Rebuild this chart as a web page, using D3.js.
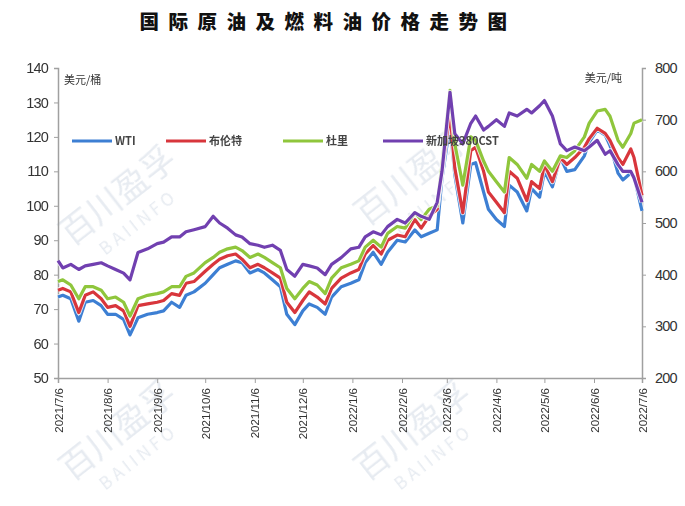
<!DOCTYPE html>
<html lang="zh">
<head>
<meta charset="UTF-8">
<title>国际原油及燃料油价格走势图</title>
<script src="https://d3js.org/d3.v7.min.js"></script>
<style>
  body { margin: 0; background: #fff; }
  svg { display: block; }
</style>
</head>
<body>
<div id="chart"></div>
<script>
// dates (roughly every few trading days)
const dates = [
  "2021-07-06","2021-07-09","2021-07-14","2021-07-19","2021-07-23","2021-07-28",
  "2021-08-02","2021-08-06","2021-08-11","2021-08-16","2021-08-20","2021-08-25","2021-08-31",
  "2021-09-06","2021-09-10","2021-09-15","2021-09-20","2021-09-24","2021-09-29",
  "2021-10-06","2021-10-11","2021-10-15","2021-10-20","2021-10-25","2021-10-29",
  "2021-11-03","2021-11-08","2021-11-12","2021-11-17","2021-11-22","2021-11-26",
  "2021-12-01","2021-12-06","2021-12-10","2021-12-15","2021-12-20","2021-12-24","2021-12-30",
  "2022-01-05","2022-01-10","2022-01-14","2022-01-19","2022-01-24","2022-01-28",
  "2022-02-03","2022-02-08","2022-02-14","2022-02-18","2022-02-23","2022-02-28",
  "2022-03-03","2022-03-08","2022-03-11","2022-03-16","2022-03-21","2022-03-24","2022-03-29",
  "2022-04-01","2022-04-06","2022-04-11","2022-04-14","2022-04-19","2022-04-25","2022-04-28",
  "2022-05-03","2022-05-06","2022-05-11","2022-05-16","2022-05-20","2022-05-25","2022-05-31",
  "2022-06-03","2022-06-08","2022-06-13","2022-06-16","2022-06-21","2022-06-24","2022-06-29",
  "2022-07-01","2022-07-06"
];

// 美元/桶 (left axis)
const wti = [
  73.5,74,73,66.5,72,72.5,
  71,68.5,68.5,67,62.5,67.5,68.5,
  69,69.5,72,70.5,74,75,
  77.5,80,82,83,84,83.5,
  80.5,81.5,80.5,78.5,76.5,68.5,
  65.5,69.5,71.5,70.5,68.5,73.5,76.5,
  77.5,78.5,83.5,86.5,83,86.5,
  90,89.5,93,91,92,93,
  108,123.5,109,95,112,112.5,104,
  99,96,94,106,104,98.5,105,
  102.5,110,105.5,114,110,110.5,114.5,
  118.5,122,120.5,117.5,109.5,107.5,109.5,
  108.5,98.5
];

const brent = [
  75.5,76,75,69,74,75,
  73,70.5,71,69.5,65,71,71.5,
  72,72.5,74.5,74,77.5,78,
  81,83,84.5,85.5,86,84.5,
  82,83,82,80.5,79,72,
  69,72.5,75,73.5,71.5,76,79,
  80.5,81.5,86,88.5,86,90,
  91.5,91,96,93.5,97,99,
  110,127,111,98,116,117,110,
  104,101,98,110,108,101.5,107,
  105,112,107,114,112,114,117,
  119.5,122.5,121,119,114,112,116.5,
  114,103
];

const duri = [
  78,78.5,77,73,76.5,76.5,
  75.5,73,73.5,72,68,73,74,
  74.5,75,76.5,76.5,79.5,80.5,
  83.5,85,86.5,87.5,88,87,
  85,86,85,83.5,82,76,
  73,76,78,77,74.5,79,82,
  83,84,88,90,88,92,
  94,93.5,98,96,99,100,
  112,133.5,118,106,120,119,113,
  110,107,104,114,112,108,112,
  110,113,110,114.5,114,116,120,
  124,127.5,128,126,119,117,121,
  124,125
];

// 美元/吨 (right axis)
const cst380 = [
  427,413,420,410,417,420,
  423,417,410,403,390,443,450,
  460,463,473,473,483,487,
  493,513,500,490,477,473,
  460,457,453,457,447,410,
  397,420,417,413,400,420,433,
  450,453,473,483,477,493,
  507,500,520,513,507,540,
  600,753,673,653,693,707,680,
  687,700,687,713,707,720,713,
  727,737,707,653,640,647,640,
  647,660,633,640,613,600,600,
  587,540
];

const tickDates = [
  "2021-07-06","2021-08-06","2021-09-06","2021-10-06","2021-11-06","2021-12-06",
  "2022-01-06","2022-02-06","2022-03-06","2022-04-06","2022-05-06","2022-06-06","2022-07-06"
];
const leftTicks = [50,60,70,80,90,100,110,120,130,140];
const rightTicks = [200,300,400,500,600,700,800];

const seriesNames = ["WTI","布伦特","杜里","新加坡380CST"];
const seriesColors = ["#3d7fd3","#d8363c","#8fc63c","#7140b0"];

const W = 685, H = 506;
const m = {left: 58, right: 43, top: 68, bottom: 128};
const parse = d3.timeParse("%Y-%m-%d");
const fmt = d3.timeFormat("%Y/%-m/%-d");

const svg = d3.select("#chart").append("svg")
  .attr("width", W).attr("height", H);

const x = d3.scaleTime()
  .domain([parse(tickDates[0]), parse(tickDates[tickDates.length - 1])])
  .range([m.left, W - m.right]);
const yL = d3.scaleLinear().domain([50, 140]).range([H - m.bottom, m.top]);
const yR = d3.scaleLinear().domain([200, 800]).range([H - m.bottom, m.top]);

// watermark
const wm = svg.append("g").attr("fill", "#c9d3e0").attr("opacity", 0.45)
  .attr("font-family", "Noto Sans CJK SC");
[[125, 205], [420, 185], [125, 440], [420, 440]].forEach(p => {
  const g = wm.append("g").attr("transform", `translate(${p[0]},${p[1]}) rotate(-38)`);
  g.append("text").attr("font-size", 34).attr("text-anchor", "middle").text("百川盈孚");
  g.append("text").attr("y", 28).attr("font-size", 17).attr("letter-spacing", 4)
    .attr("text-anchor", "middle").text("BAIINFO");
});

// title
svg.append("text")
  .attr("x", 328).attr("y", 29)
  .attr("text-anchor", "middle")
  .attr("font-family", "Noto Sans CJK SC")
  .attr("font-weight", 900)
  .attr("font-size", 19.5)
  .attr("letter-spacing", 9.5)
  .attr("fill", "#111")
  .text("国际原油及燃料油价格走势图");

// axes
const axisColor = "#a0a0a0";
const gL = svg.append("g").attr("transform", `translate(${m.left},0)`)
  .call(d3.axisLeft(yL).tickValues(leftTicks).tickSize(4).tickPadding(6));
const gR = svg.append("g").attr("transform", `translate(${W - m.right},0)`)
  .call(d3.axisRight(yR).tickValues(rightTicks).tickSize(4).tickPadding(9));
const gX = svg.append("g").attr("transform", `translate(0,${H - m.bottom})`)
  .call(d3.axisBottom(x).tickValues(tickDates.map(parse)).tickFormat(fmt).tickSize(5));

[gL, gR, gX].forEach(g => {
  g.select(".domain").attr("stroke", axisColor).attr("stroke-width", 1.5);
  g.selectAll(".tick line").attr("stroke", axisColor);
  g.selectAll("text").attr("fill", "#333")
    .attr("font-family", "Liberation Sans, Arial, sans-serif");
});
gL.selectAll("text").attr("font-size", 14.5).attr("letter-spacing", -0.8);
gR.selectAll("text").attr("font-size", 14.5).attr("letter-spacing", -0.8);
gX.selectAll("text")
  .attr("font-size", 11.5)
  .attr("text-anchor", "end")
  .attr("transform", "rotate(-90)")
  .attr("x", -10).attr("y", 0).attr("dy", "0.35em");

// unit labels
svg.append("text").attr("x", 64).attr("y", 84)
  .attr("font-family", "Noto Sans CJK SC").attr("font-size", 11).attr("fill", "#333")
  .text("美元/桶");
svg.append("text").attr("x", 622).attr("y", 82).attr("text-anchor", "end")
  .attr("font-family", "Noto Sans CJK SC").attr("font-size", 11).attr("fill", "#333")
  .text("美元/吨");

// lines
const rows = dates.map((d, i) => ({date: parse(d), v: [wti[i], brent[i], duri[i], cst380[i]]}));
const seriesScales = [yL, yL, yL, yR];

seriesScales.forEach((sc, k) => {
  const line = d3.line().x(d => x(d.date)).y(d => sc(d.v[k]));
  svg.append("path").datum(rows)
    .attr("fill", "none").attr("stroke", "#fff").attr("stroke-width", 5)
    .attr("stroke-linejoin", "round").attr("opacity", 0.8)
    .attr("d", line);
  svg.append("path").datum(rows)
    .attr("fill", "none").attr("stroke", seriesColors[k]).attr("stroke-width", 3.2)
    .attr("stroke-linejoin", "round")
    .attr("d", line);
});

// legend
const legendX = [72, 166, 283, 383];
const lg = svg.append("g").attr("transform", "translate(0,141)");
seriesNames.forEach((n, i) => {
  lg.append("line").attr("x1", legendX[i]).attr("x2", legendX[i] + 40)
    .attr("stroke", seriesColors[i]).attr("stroke-width", 3);
  lg.append("text").attr("x", legendX[i] + 43).attr("y", 4)
    .attr("font-family", "Noto Sans CJK SC").attr("font-weight", "bold")
    .attr("font-size", 11).attr("fill", "#444")
    .text(n);
});
</script>
</body>
</html>
